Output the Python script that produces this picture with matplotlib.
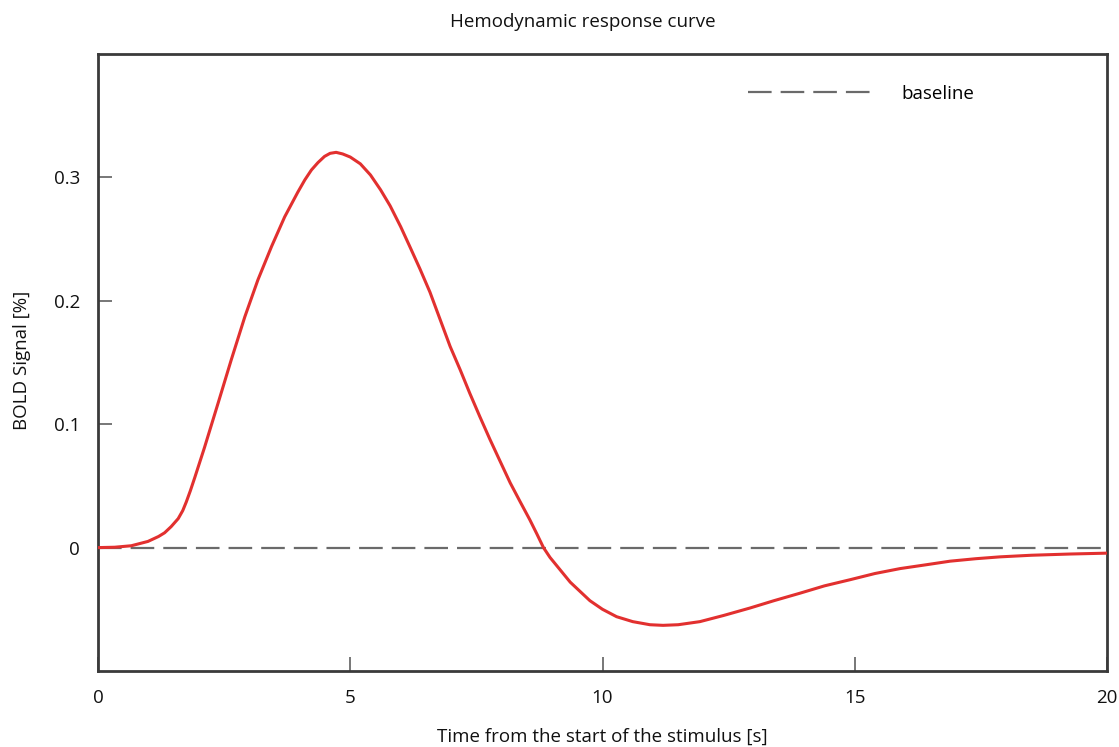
import matplotlib
matplotlib.use("Agg")
import matplotlib.pyplot as plt

plt.rcParams['font.family'] = ['Open Sans', 'DejaVu Sans']
plt.rcParams['lines.scale_dashes'] = False

time_s = [0.0, 0.33, 0.66, 0.99, 1.2, 1.32, 1.45, 1.59, 1.68, 1.75, 1.83, 1.92, 2.11,
          2.38, 2.64, 2.91, 3.17, 3.44, 3.70, 3.96, 4.10, 4.23, 4.36, 4.49, 4.60, 4.72,
          4.85, 5.0, 5.2, 5.4, 5.6, 5.79, 6.0, 6.18, 6.38, 6.58, 6.78, 6.98, 7.18, 7.37,
          7.57, 7.77, 7.97, 8.17, 8.37, 8.56, 8.70, 8.83, 8.96, 9.16, 9.36, 9.62, 9.75,
          10.0, 10.28, 10.6, 10.94, 11.2, 11.5, 11.93, 12.4, 12.92, 13.4, 13.91, 14.4,
          14.91, 15.4, 15.9, 16.4, 16.89, 17.4, 17.88, 18.5, 19.27, 20.0]
bold_signal = [0.0, 0.0003, 0.0015, 0.005, 0.009, 0.012, 0.017, 0.0235, 0.030, 0.037,
               0.046, 0.057, 0.081, 0.117, 0.152, 0.187, 0.217, 0.244, 0.268, 0.288,
               0.298, 0.306, 0.312, 0.317, 0.3195, 0.3203, 0.319, 0.3165, 0.311, 0.302,
               0.290, 0.277, 0.260, 0.244, 0.226, 0.207, 0.185, 0.163, 0.144, 0.125,
               0.106, 0.0876, 0.070, 0.0525, 0.037, 0.0225, 0.011, 0.0, -0.008, -0.018,
               -0.028, -0.038, -0.043, -0.050, -0.056, -0.060, -0.0625, -0.063, -0.0625,
               -0.060, -0.055, -0.049, -0.043, -0.037, -0.031, -0.026, -0.021, -0.017,
               -0.014, -0.011, -0.009, -0.0075, -0.0062, -0.0052, -0.0045]
baseline_x = [0, 20]
baseline_y = [0, 0]
x_ticks = [0, 5, 10, 15, 20]
y_ticks = [0, 0.1, 0.2, 0.3]
y_tick_labels = ['0', '0.1', '0.2', '0.3']

FS = 13.5
fig = plt.figure(figsize=(11.19, 7.47), dpi=100)
ax = fig.add_axes([98/1119, 76/747, 1009/1119, 617/747])

ax.plot(baseline_x, baseline_y, color='#6a6a6a', lw=1.6, dashes=(17, 6.5), label='baseline', zorder=2)
ax.plot(time_s, bold_signal, color='#e2302f', lw=2.2, zorder=3,
        solid_joinstyle='round', solid_capstyle='round')

ax.set_xlim(0, 20)
ax.set_ylim(-0.1, 0.4)
ax.set_xticks(x_ticks)
ax.set_yticks(y_ticks)
ax.set_yticklabels(y_tick_labels)
ax.tick_params(direction='in', length=10, width=1.4, color='#777777',
               labelsize=FS, labelcolor='#111111')
ax.tick_params(axis='x', pad=13)
ax.tick_params(axis='y', pad=13)
for s in ax.spines.values():
    s.set_color('#3a3a3a')
    s.set_linewidth(2.0)

fig.text(602/1119, 1 - 737/747, 'Time from the start of the stimulus [s]', ha='center', va='center',
         fontsize=FS, color='#111111')
fig.text(22/1119, 1 - 360/747, 'BOLD Signal [%]', ha='center', va='center', rotation=90,
         fontsize=FS, color='#111111')
fig.text(583/1119, 1 - 22/747, 'Hemodynamic response curve', ha='center', va='center',
         fontsize=FS, color='#111111')

leg = ax.legend(loc='upper left', bbox_to_anchor=((748-98)/1009, (671-85)/617),
                frameon=False, fontsize=FS, handlelength=6.8, handletextpad=1.4,
                borderpad=0, borderaxespad=0)

fig.savefig('out.png', dpi=100)
